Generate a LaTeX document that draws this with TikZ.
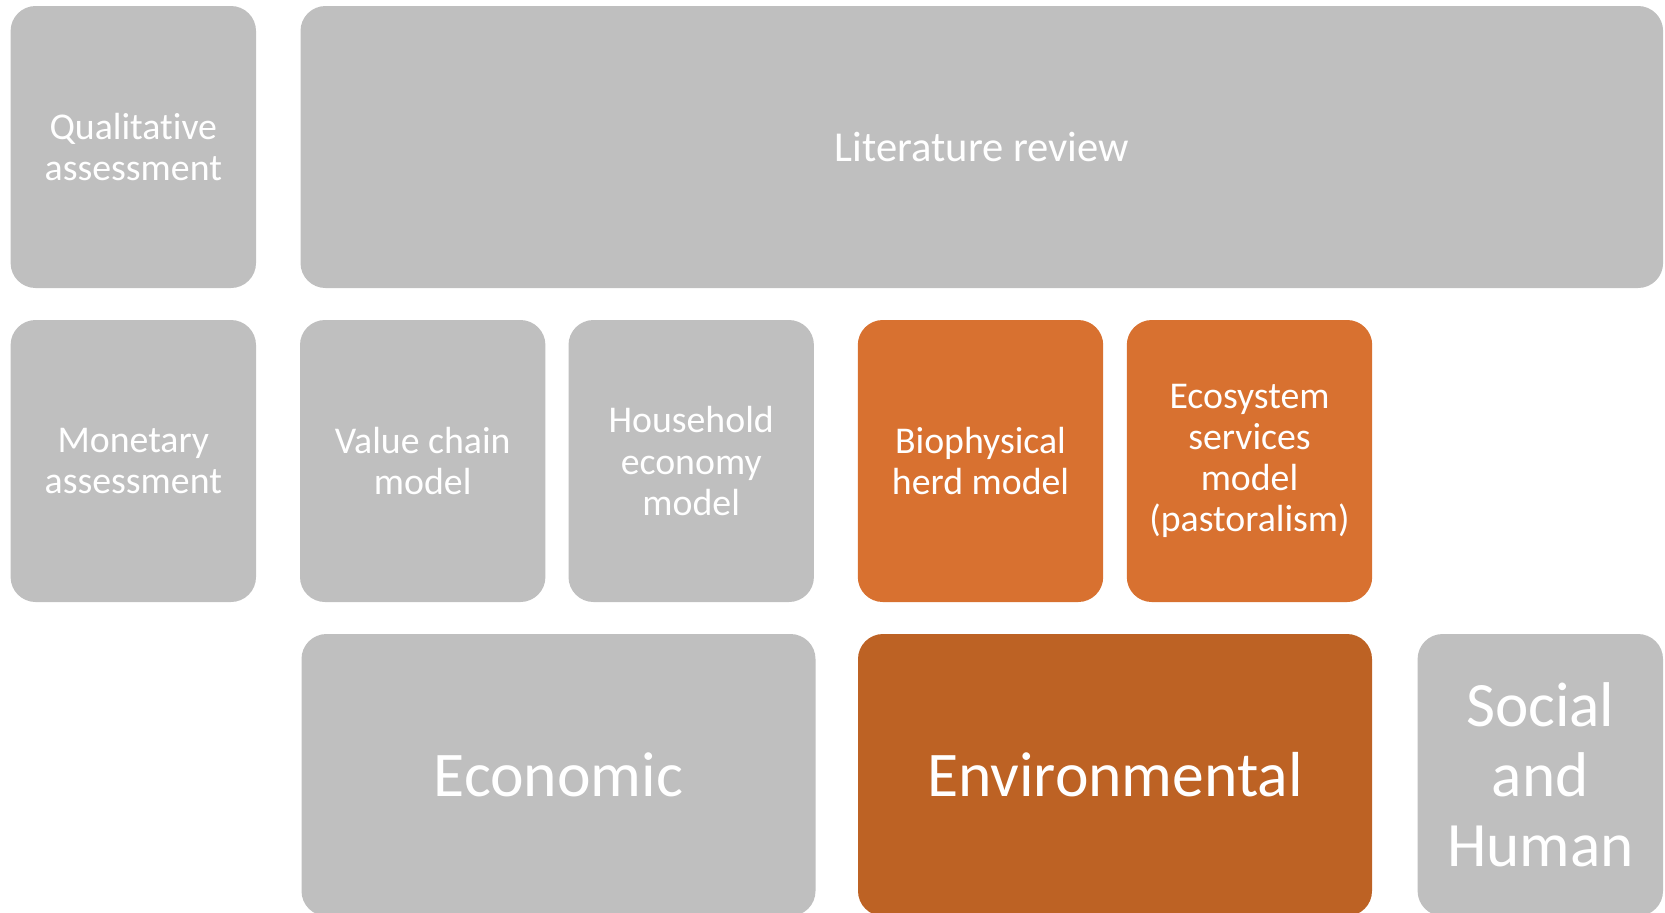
\documentclass[tikz,border=0pt]{standalone}
\usepackage{fontspec}
\setmainfont{Carlito}[Ligatures=NoCommon]
\definecolor{boxgray}{HTML}{BFBFBF}
\definecolor{boxorange}{HTML}{D87130}
\definecolor{boxrust}{HTML}{BD6224}
\begin{document}
\begin{tikzpicture}[x=0.5pt, y=-0.5pt,
    cell/.style={fill=boxgray, rounded corners=12.5pt, text=white, align=center,
      inner sep=0pt, minimum width=122.7pt, minimum height=141pt,
      font=\fontsize{18.9}{20.6}\selectfont},
    hot/.style={cell, fill=boxorange},
    big/.style={cell, minimum width=257pt, font=\fontsize{31.8}{35}\selectfont},
    hotter/.style={big, fill=boxrust}]
    \useasboundingbox (0,0) rectangle (1665,912);

    \node[cell] (qual) at (133.3,147) {Qualitative\\assessment};
    \node[cell, minimum width=681.3pt, font=\fontsize{21.3}{24}\selectfont] (lit) at (981.8,147) {Literature review};

    \node[cell] (mon) at (133.3,461) {Monetary\\assessment};
    \node[cell] (vcm) at (422.7,461) {Value chain\\model};
    \node[cell] (hem) at (691.2,461) {Household\\economy\\model};
    \node[hot] (bhm) at (980.5,461) {Biophysical\\herd model};
    \node[hot] (esm) at (1249.5,461) {Ecosystem\\services\\model\\(pastoralism)};

    \node[big] (eco) at (558.5,775) {Economic};
    \node[hotter] (env) at (1115,775) {Environmental};
    \node[cell, font=\fontsize{31.6}{35}\selectfont] (soc) at (1540.3,775) {Social\\and\\Human};
\end{tikzpicture}
\end{document}
